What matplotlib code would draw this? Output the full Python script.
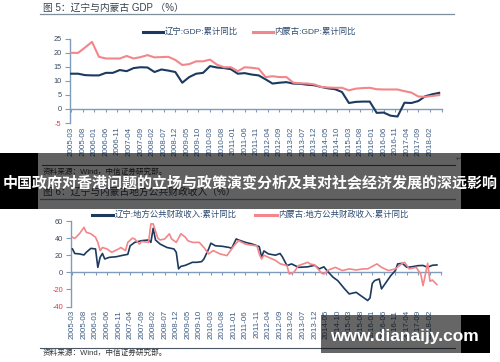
import numpy as np
import pandas as pd
import matplotlib
matplotlib.use('Agg')
import matplotlib.pyplot as plt
from matplotlib.patches import Rectangle

plt.rcParams['font.family'] = ['Liberation Sans', 'Noto Sans CJK SC', 'DejaVu Sans']

W, H = 500, 362

# ---------------- data ----------------
tick_labels = ['2005-03', '2005-08', '2006-01', '2006-06', '2006-11', '2007-04', '2007-09',
               '2008-02', '2008-07', '2008-12', '2009-05', '2009-10', '2010-03', '2010-08',
               '2011-01', '2011-06', '2011-11', '2012-04', '2012-09', '2013-02', '2013-07',
               '2013-12', '2014-05', '2014-10', '2015-03', '2015-08', '2016-01', '2016-06',
               '2016-11', '2017-04', '2017-09', '2018-02']

# Figure 5: GDP cumulative YoY (quarterly)
gdp_dates = pd.period_range('2005-03', periods=54, freq='3M').strftime('%Y-%m').tolist()
gdp_liaoning = [12.5, 12.5, 12.0, 11.9, 11.9, 12.8, 12.8, 13.8, 13.4, 14.5,
                14.8, 14.7, 13.1, 14.0, 13.6, 13.1, 9.3, 11.3, 12.5, 12.8,
                15.2, 14.7, 14.5, 14.1, 12.5, 12.7, 12.2, 11.9, 10.5, 9.0,
                9.3, 9.5, 9.0, 8.9, 8.6, 8.4, 7.8, 7.3, 7.0, 6.0,
                2.1, 2.5, 2.6, 2.6, -1.4, -1.3, -2.4, -2.7, 2.2, 2.1,
                2.8, 4.5, 5.2, 5.7]
gdp_neimenggu = [19.9, 19.9, 21.8, 23.8, 18.5, 17.9, 17.9, 17.9, 18.8, 17.9,
                 18.4, 19.1, 18.3, 18.4, 18.5, 17.4, 15.6, 15.9, 16.9, 16.9,
                 17.5, 15.7, 14.8, 14.8, 13.4, 14.8, 14.6, 14.3, 11.3, 11.6,
                 11.3, 11.3, 9.3, 9.1, 9.0, 8.7, 7.8, 7.6, 7.5, 7.5,
                 6.6, 7.2, 7.4, 7.5, 7.0, 6.9, 6.9, 6.9, 6.3, 5.8,
                 4.4, 4.3, 4.6, 4.9]

# Figure 6: local public fiscal revenue cumulative YoY
rev_ln_dates = ['2005-03', '2005-04', '2005-06', '2005-08', '2005-09', '2005-11', '2006-01', '2006-02',
                '2006-03', '2006-04', '2006-05', '2006-07', '2006-10', '2007-01', '2007-03', '2007-04',
                '2007-06', '2007-09', '2007-12', '2008-01', '2008-02', '2008-03', '2008-05', '2008-08',
                '2008-11', '2008-12', '2009-01', '2009-02', '2009-04', '2009-07', '2009-09', '2009-11',
                '2009-12', '2010-02', '2010-03', '2010-05', '2010-08', '2010-11', '2010-12', '2011-02',
                '2011-03', '2011-06', '2011-09', '2011-12', '2012-01', '2012-02', '2012-04', '2012-07',
                '2012-09', '2012-10', '2012-12', '2013-02', '2013-05', '2013-09', '2013-12', '2014-02',
                '2014-04', '2014-06', '2014-08', '2014-10', '2015-01', '2015-03', '2015-06', '2015-08',
                '2015-11', '2015-12', '2016-01', '2016-02', '2016-04', '2016-05', '2016-07', '2016-09',
                '2016-11', '2016-12', '2017-02', '2017-04', '2017-06', '2017-09', '2017-11', '2018-01',
                '2018-03', '2018-05']
rev_liaoning = [27.3, 22, 21.5, 20.3, 23.4, 28, 27.3, 5.8,
                17.5, 22, 15.6, 17.5, 18.2, 20, 21, 31,
                35, 37, 37.8, 35, 51.5, 37.8, 33, 29,
                27.3, 23.4, 4, 6.9, 8.2, 11.7, 11.7, 12.5,
                15.6, 27, 34, 31, 30.4, 29, 28, 39,
                37.8, 35, 33, 30, 17.5, 25, 21.5, 20,
                22, 18.2, 7.8, 9.8, 5.8, 6.4, 8.2, 4,
                6.4, 0, -5.8, -9.7, -19.4, -25.3, -23.4, -27.3,
                -33, -30, -13, -9.7, -7.8, -19.4, -11.7, -3.9,
                2, 9.8, 10.5, 5.8, 6.4, 7.8, 8, 5.8,
                8.2, 8.6]

rev_nm_dates = ['2005-03', '2005-04', '2005-06', '2005-08', '2005-09', '2005-11', '2006-01', '2006-02',
                '2006-03', '2006-04', '2006-06', '2006-08', '2006-11', '2006-12', '2007-02', '2007-03',
                '2007-05', '2007-06', '2007-08', '2007-09', '2007-12', '2008-01', '2008-02', '2008-04',
                '2008-05', '2008-07', '2008-09', '2008-10', '2008-12', '2009-02', '2009-04', '2009-05',
                '2009-07', '2009-10', '2009-12', '2010-02', '2010-04', '2010-07', '2010-10', '2010-11',
                '2011-01', '2011-03', '2011-06', '2011-08', '2011-11', '2011-12', '2012-01', '2012-02',
                '2012-04', '2012-07', '2012-09', '2012-12', '2013-01', '2013-03', '2013-05', '2013-09',
                '2013-10', '2013-12', '2014-03', '2014-04', '2014-06', '2014-09', '2014-12', '2015-03',
                '2015-06', '2015-09', '2015-11', '2016-03', '2016-05', '2016-08', '2016-11', '2017-02',
                '2017-03', '2017-05', '2017-08', '2017-10', '2017-11', '2018-01', '2018-02', '2018-03',
                '2018-05']
rev_neimenggu = [41, 39.6, 45, 52.6, 46.8, 45, 41, 35,
                 25.4, 29, 27.3, 23.4, 27.3, 29, 25.4, 35,
                 40, 39, 33, 36, 35, 56.6, 56.6, 40,
                 37.8, 39, 45, 39, 35, 45, 41, 37,
                 35, 35, 29, 21.5, 25.4, 21.5, 19.5, 23.4,
                 31, 37, 33, 32, 31, 21.5, 15.6, 20,
                 17.5, 14, 10, 7.8, -2, 0, 7.8, 11.7,
                 9.8, 8.6, -1, -2, 2.7, 5.8, 2, 4,
                 2.7, 4, 4, 9.8, 5.8, 2, 4, 10.5,
                 11.7, 4, 5.8, -2, -15.6, 10.5, -10.5, -9,
                 -14.4]

gdp_yticks = [-5, 0, 5, 10, 15, 20, 25]
rev_yticks = [-40, -20, 0, 20, 40, 60]

# ---------------- style ----------------
NAVY = '#1c3a5e'
PINK = '#f3868a'
AXC = '#7f9cbc'
YC = '#3b4a5e'
XC = '#3d5b82'
RED = '#e0353d'
TC = '#35404e'
LC = '#2c4a70'


def midx(s):
    y, m = map(int, s.split('-'))
    return (y - 2005) * 12 + (m - 3)


fig = plt.figure(figsize=(W / 100, H / 100), dpi=100)
fig.patch.set_facecolor('white')


def draw_chart(x0, x1, ytop, ybot, ylim, yticks, da, va, db, vb, lw):
    ax = fig.add_axes([x0 / W, 1 - ybot / H, (x1 - x0) / W, (ybot - ytop) / H])
    ax.patch.set_alpha(0)
    ax.plot([midx(d) for d in da], va, color=NAVY, lw=lw, solid_joinstyle='round', zorder=3)
    ax.plot([midx(d) for d in db], vb, color=PINK, lw=lw, solid_joinstyle='round', zorder=3)
    ax.set_xlim(-0.5, 160)
    ax.set_ylim(*ylim)
    for s in ['top', 'right']:
        ax.spines[s].set_visible(False)
    ax.spines['bottom'].set_position(('data', 0))
    for s in ['bottom', 'left']:
        ax.spines[s].set_color(AXC)
        ax.spines[s].set_linewidth(1.0)
    ax.set_xticks([midx(t) for t in tick_labels] + [160])
    ax.tick_params(axis='x', labelbottom=False, direction='out', length=2.2, width=0.8, color=AXC)
    ax.set_yticks(yticks, labels=[str(v) for v in yticks])
    ax.tick_params(axis='y', length=3.5, width=0.8, color=AXC, labelsize=5.3, pad=2.5)
    for t, v in zip(ax.get_yticklabels(), yticks):
        t.set_color(RED if v < 0 else YC)
    sec = ax.secondary_xaxis(0)
    sec.set_xticks([midx(t) for t in tick_labels], labels=tick_labels)
    sec.tick_params(length=0, pad=2.5, labelsize=5.8, labelcolor=XC, labelrotation=90)
    sec.spines['bottom'].set_visible(False)
    return ax


draw_chart(70, 441.5, 38.5, 123, (-5, 25), gdp_yticks,
           gdp_dates, gdp_liaoning, gdp_dates, gdp_neimenggu, 1.5)
draw_chart(71.3, 441.5, 221, 306.5, (-40, 60), rev_yticks,
           rev_ln_dates, rev_liaoning, rev_nm_dates, rev_neimenggu, 1.2)

# ---------------- overlay (pixel coordinates) ----------------
ov = fig.add_axes([0, 0, 1, 1])
ov.set_xlim(0, W)
ov.set_ylim(H, 0)
ov.axis('off')
ov.patch.set_alpha(0)

# figure 5 header + legend
ov.text(43, 8, '图 5：辽宁与内蒙古 GDP （%）', fontsize=7, color=TC, va='center', ha='left')
ov.plot([40, 454], [14.3, 14.3], color='#7e8f9a', lw=0.9)
ov.plot([143, 163], [31.7, 31.7], color=NAVY, lw=2.2)
ov.text(164.5, 31.7, '辽宁:GDP:累计同比', fontsize=6, color=LC, va='center', ha='left')
ov.plot([253, 273], [31.7, 31.7], color=PINK, lw=2.2)
ov.text(274.5, 31.7, '内蒙古:GDP:累计同比', fontsize=6, color=LC, va='center', ha='left')

# content under the banner
ov.plot([42, 455], [164.8, 164.8], color='#555555', lw=0.8)
ov.text(456, 158.5, '↵', fontsize=5, color='#888888', va='center', family=['DejaVu Sans'])
ov.text(43, 172, '资料来源：Wind，中信证券研究部。', fontsize=5.5, color='#333333', va='center')
ov.text(43, 191.5, '图 6：辽宁与内蒙古地方公共财政收入（%）', fontsize=7, color=TC, va='center')
ov.plot([40, 455], [199, 199], color='#7e8f9a', lw=0.9)

# figure 6 legend
ov.plot([91.7, 113.3], [215, 215], color=NAVY, lw=2.2)
ov.text(114.5, 215, '辽宁:地方公共财政收入:累计同比', fontsize=6, color=LC, va='center', ha='left')
ov.plot([255, 276.7], [215, 215], color=PINK, lw=2.2)
ov.text(278, 215, '内蒙古:地方公共财政收入:累计同比', fontsize=6, color=LC, va='center', ha='left')

# figure 6 source
ov.plot([40, 455], [348.3, 348.3], color='#4a5866', lw=0.8)
ov.text(43, 353.5, '资料来源：Wind，中信证券研究部。', fontsize=5.5, color='#333333', va='center')

# banner
ov.add_patch(Rectangle((0, 153), W, 56, facecolor='black', alpha=0.62, lw=0, zorder=10))
ov.add_patch(Rectangle((0, 153), 38.3, 56, facecolor='black', lw=0, zorder=11))
ov.add_patch(Rectangle((461, 153), 39, 56, facecolor='black', lw=0, zorder=11))
ov.text(250, 182.5, '中国政府对香港问题的立场与政策演变分析及其对社会经济发展的深远影响',
        fontsize=10.8, weight='bold', color='white', ha='center', va='center',
        family=['Noto Sans CJK SC'], zorder=12)

# watermark
ov.add_patch(Rectangle((321, 315), 140, 37.7, facecolor='black', alpha=0.6, lw=0, zorder=10))
ov.add_patch(Rectangle((461, 315), 29, 37.7, facecolor='black', lw=0, zorder=11))
ov.text(330, 336, 'www.dianaijy.com', fontsize=12.5, weight='bold', color='white',
        ha='left', va='center', family=['Liberation Sans'], zorder=12)

fig.savefig('out.png', dpi=100)
